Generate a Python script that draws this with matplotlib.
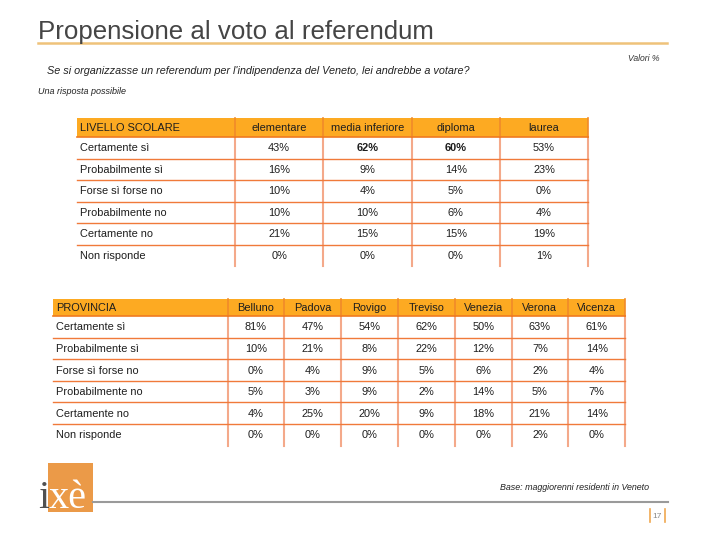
import matplotlib
matplotlib.use("Agg")
import matplotlib.pyplot as plt
from matplotlib.patches import Rectangle

# ---------------- data ----------------
row_labels = ["Certamente sì", "Probabilmente sì", "Forse sì forse no",
              "Probabilmente no", "Certamente no", "Non risponde"]

edu_header = "LIVELLO SCOLARE"
edu_cols = ["elementare", "media inferiore", "diploma", "laurea"]
edu_vals = [[43, 62, 60, 53],
            [16, 9, 14, 23],
            [10, 4, 5, 0],
            [10, 10, 6, 4],
            [21, 15, 15, 19],
            [0, 0, 0, 1]]
edu_bold = [[False, True, True, False]] + [[False] * 4 for _ in range(5)]

prov_header = "PROVINCIA"
prov_cols = ["Belluno", "Padova", "Rovigo", "Treviso", "Venezia", "Verona", "Vicenza"]
prov_vals = [[81, 47, 54, 62, 50, 63, 61],
             [10, 21, 8, 22, 12, 7, 14],
             [0, 4, 9, 5, 6, 2, 4],
             [5, 3, 9, 2, 14, 5, 7],
             [4, 25, 20, 9, 18, 21, 14],
             [0, 0, 0, 0, 0, 2, 0]]
prov_bold = [[False] * 7 for _ in range(6)]

title = "Propensione al voto al referendum"
question = "Se si organizzasse un referendum per l'indipendenza del Veneto, lei andrebbe a votare?"
note = "Una risposta possibile"
units = "Valori %"
base = "Base: maggiorenni residenti in Veneto"
page = "17"

# ---------------- style ----------------
FONT = "Liberation Sans"
HEAD_FILL = "#FDAA22"
HLINE = "#F07A3A"
VLINE = "#F4A98A"
HEAD_V = "#F08A2A"
TXT = "#1E1E1E"

fig = plt.figure(figsize=(7.2, 5.4), dpi=100)
ax = fig.add_axes([0, 0, 1, 1])
ax.set_xlim(0, 720)
ax.set_ylim(540, 0)
ax.axis("off")


def draw_table(x0, label_w, col_w, y0, head_h, row_h, header, cols, vals, bold):
    ncol = len(cols)
    nrow = len(vals)
    x_right = x0 + label_w + ncol * col_w
    y_bottom = y0 + head_h + nrow * row_h
    fs = 7.9
    # header fill
    ax.add_patch(Rectangle((x0, y0), x_right - x0, head_h, facecolor=HEAD_FILL,
                           edgecolor="none", zorder=1))
    ax.plot([x0, x_right], [y0 + head_h, y0 + head_h], color="#F07A20", lw=1.2, zorder=3)
    # horizontal lines between rows
    for i in range(1, nrow):
        y = y0 + head_h + i * row_h
        ax.plot([x0, x_right], [y, y], color=HLINE, lw=1.0, zorder=3)
    # vertical lines
    for j in range(ncol + 1):
        x = x0 + label_w + j * col_w
        ax.plot([x, x], [y0 + head_h, y_bottom], color=VLINE, lw=1.5, zorder=2)
        ax.plot([x, x], [y0, y0 + head_h], color=HEAD_V, lw=1.2, zorder=2)
    # header text
    ax.text(x0 + 3, y0 + head_h / 2 + 0.5, header, ha="left", va="center",
            fontsize=fs, family=FONT, color=TXT, zorder=4)
    for j, c in enumerate(cols):
        ax.text(x0 + label_w + (j + 0.5) * col_w, y0 + head_h / 2 + 0.5, c,
                ha="center", va="center", fontsize=fs, family=FONT, color=TXT, zorder=4)
    # body
    for i, r in enumerate(row_labels[:nrow]):
        yc = y0 + head_h + (i + 0.5) * row_h + 0.5
        ax.text(x0 + 3, yc, r, ha="left", va="center", fontsize=fs,
                family=FONT, color=TXT, zorder=4)
        for j in range(ncol):
            ax.text(x0 + label_w + (j + 0.5) * col_w, yc, f"{vals[i][j]}%",
                    ha="center", va="center", fontsize=fs, family=FONT,
                    color=TXT, zorder=4,
                    fontweight="bold" if bold[i][j] else "normal")


# title and texts
ax.text(38, 38.5, title, ha="left", va="baseline", fontsize=18.6, family=FONT,
        color="#454545")
ax.plot([38, 667], [42.7, 42.7], color="#EFC27A", lw=1.8)
ax.text(659, 58.5, units, ha="right", va="center", fontsize=6.2, family=FONT,
        style="italic", color="#333333")
ax.text(47, 71, question, ha="left", va="center", fontsize=7.8, family=FONT,
        style="italic", color="#222222")
ax.text(38, 92, note, ha="left", va="center", fontsize=6.5, family=FONT,
        style="italic", color="#222222")

# tables
draw_table(77, 158, 88.3, 118, 19, 21.5, edu_header, edu_cols, edu_vals, edu_bold)
draw_table(53, 174.5, 56.8, 298.5, 17.5, 21.6, prov_header, prov_cols, prov_vals, prov_bold)

# footer
ax.add_patch(Rectangle((48, 463), 45, 49, facecolor="#EB9A48", edgecolor="none"))
ax.text(38.5, 508, "i", ha="left", va="baseline", fontsize=29, family="Liberation Serif",
        color="#505050")
ax.text(48.5, 508, "xè", ha="left", va="baseline", fontsize=29, family="Liberation Serif",
        color="white")
ax.plot([93, 668], [501.5, 501.5], color="#9A9A9A", lw=1.5)
ax.text(649, 487, base, ha="right", va="center", fontsize=6.4, family=FONT,
        style="italic", color="#222222")
ax.plot([649.5, 649.5], [509, 522], color="#F0A850", lw=1.2)
ax.plot([664.5, 664.5], [509, 522], color="#F0A850", lw=1.2)
ax.text(657, 516, page, ha="center", va="center", fontsize=6.0, family=FONT,
        color="#888888")

fig.savefig("out.png", dpi=100)
